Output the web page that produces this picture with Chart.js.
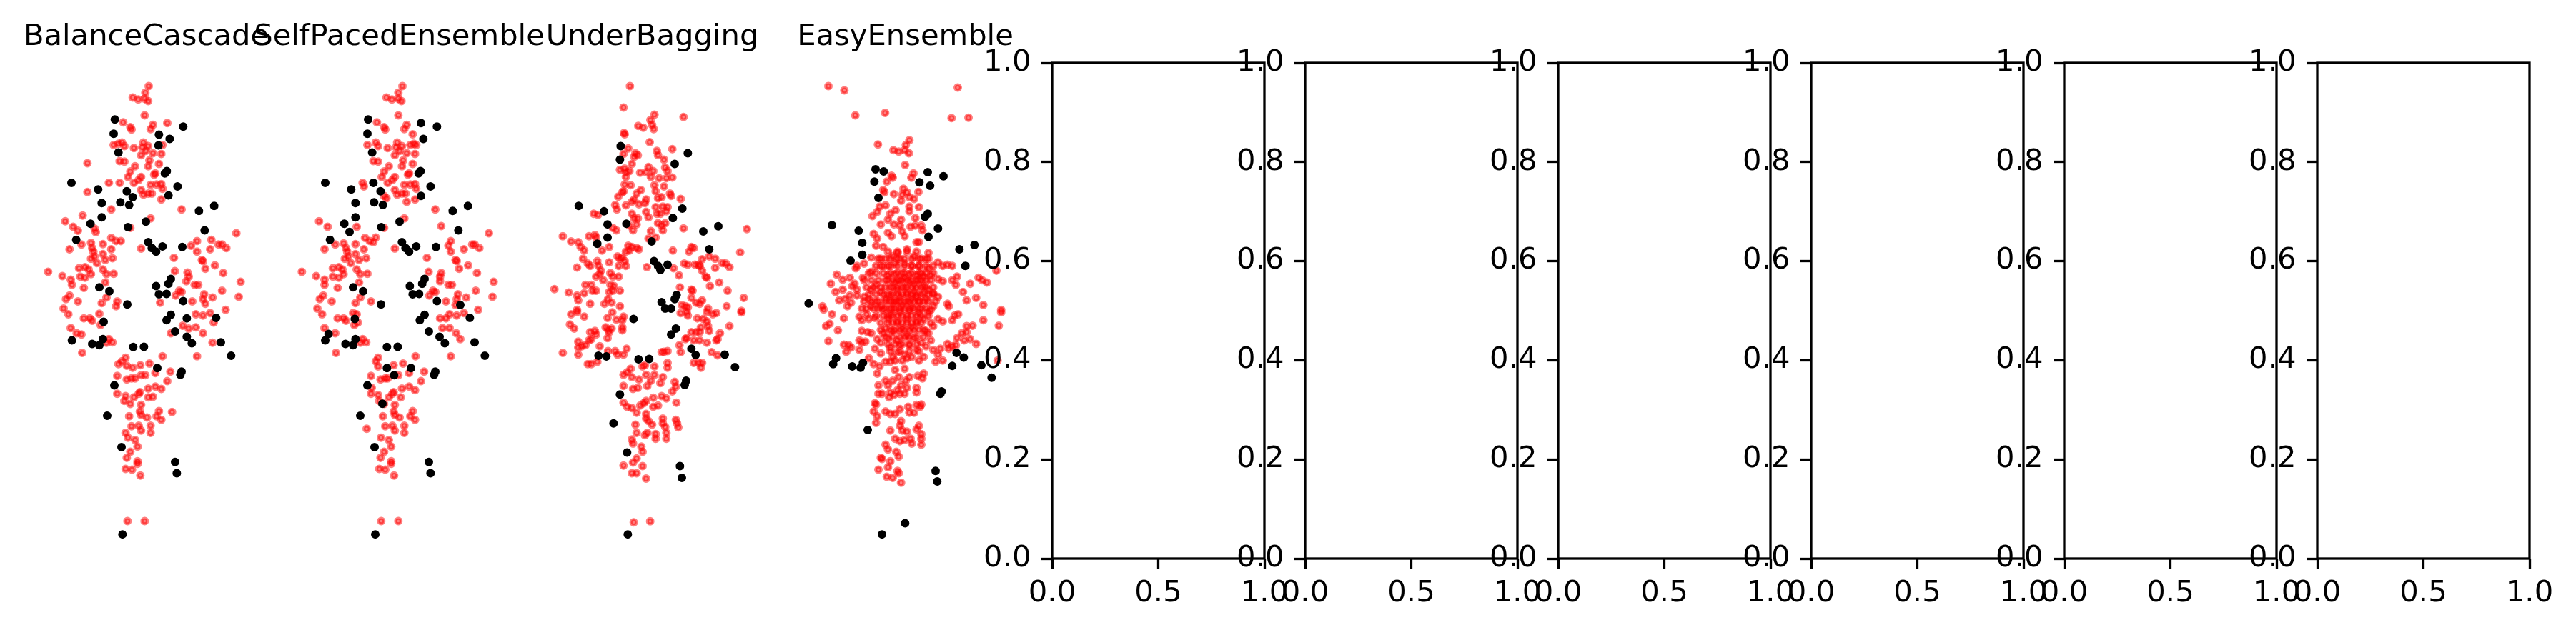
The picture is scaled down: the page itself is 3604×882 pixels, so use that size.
<!DOCTYPE html>
<html>
<head>
<meta charset="utf-8">
<script src="https://cdn.jsdelivr.net/npm/chart.js@4.4.1/dist/chart.umd.min.js"></script>
<style>
  html, body { margin: 0; padding: 0; background: #fff; width: 3604px; height: 882px; overflow: hidden; }
  canvas { position: absolute; top: 0; }
</style>
</head>
<body>
<script>
// Panel titles (the last six axes are empty)
const panelTitles = ["BalanceCascade", "SelfPacedEnsemble", "UnderBagging", "EasyEnsemble"];

// Tick values / labels of the empty axes
const yTickValues = [0, 0.2, 0.4, 0.6, 0.8, 1.0];
const yTickLabels = ["0.0", "0.2", "0.4", "0.6", "0.8", "1.0"];
const xTickValues = [0, 0.5, 1.0];
const xTickLabels = ["0.0", "0.5", "1.0"];

// Scatter points [x, y] (y grows downward, axes are hidden)
const balanceCascadeRed = [
  [522,102],[508,130],[455,150],[478,158],[505,155],[520,165],[505,225],
  [415,255],[445,275],[450,285],[540,265],[530,283],[600,258],
  [375,350],[395,345],[410,340],[420,355],[460,363],[500,340],[495,360],[520,355],[510,375],[540,385],[575,388],[580,350],[490,393],
  [265,427],[400,418],[420,420],[525,415],[520,440],[565,430],[465,440],
  [445,462],[435,485],[490,485],[480,498],[545,475],[550,470],[460,510],[400,510],[355,510],[530,518],[555,517],[575,515],[580,535],
  [490,540],[500,560],[520,555],[535,555],[575,580],[265,548],[365,622],[660,622],[530,660],[445,700],
  [172,672],[245,648],[205,695],[225,712],[295,703],[300,718],[240,770],[190,790],[280,763],[285,785],[290,800],[295,820],[280,830],
  [305,848],[330,768],[365,742],[385,755],[405,755],[365,790],[330,810],[340,835],[370,828],[100,885],[160,903],[195,918],[200,940],
  [230,870],[255,865],[270,875],[235,905],[255,910],[280,895],[330,875],[345,895],[375,893],[340,930],[250,953],[190,985],[175,1000],
  [225,1010],[325,1017],[345,993],[390,1010],[385,1030],[165,1040],
  [490,787],[628,826],[700,775],[725,755],[725,800],[785,750],[780,790],[815,770],[830,770],[848,785],[890,722],[745,835],[750,840],
  [800,858],[760,872],[835,890],[632,882],[685,888],[690,905],[680,925],[715,940],[730,940],[650,965],[660,970],[635,985],[705,1010],
  [755,980],[750,1000],[760,1020],[790,993],[830,965],[900,990],[908,927],[570,1015],[845,1045],
  [185,1064],[250,1081],[275,1081],[285,1091],[315,1062],[320,1109],[195,1122],[220,1144],[240,1149],[243,1227],[355,1169],[370,1182],
  [345,1184],[720,1064],[750,1069],[780,1059],[795,1099],[665,1112],[690,1124],[720,1119],[750,1144],[615,1144],[790,1184],[725,1241],
  [425,1247],[410,1262],[395,1274],[430,1281],[455,1289],[487,1279],[525,1272],[580,1241],[550,1312],[613,1306],[390,1324],[430,1339],
  [450,1334],[465,1334],[490,1321],[508,1321],[600,1346],[575,1379],[550,1369],[520,1377],[520,1414],[540,1412],[390,1399],[425,1409],
  [420,1429],[445,1442],[460,1414],[480,1399],[485,1392],[490,1446],[485,1474],[490,1489],[515,1499],[565,1472],[555,1494],[575,1509],
  [620,1476],[440,1494],[450,1536],[480,1534],[490,1554],[530,1534],[530,1564],[425,1564],[435,1584],[465,1594],[475,1622],[445,1644],
  [430,1669],[475,1684],[475,1694],[425,1716],[452,1719],[487,1744],[433,1936],[505,1936]
];
const balanceCascadeBlack = [
  [380,243],[375,303],[395,382],[667,273],[565,307],[610,325],[563,352],[598,460],[590,470],[198,510],[310,538],[430,545],[455,570],
  [643,525],[605,563],[325,595],[403,592],[440,603],[325,655],[278,682],[435,697],[510,673],[733,628],[797,607],[757,710],[218,750],
  [520,760],[535,785],[553,800],[580,778],[663,780],[315,950],[357,967],[553,945],[605,935],[615,915],[565,980],[597,978],[432,1023],
  [667,1008],[333,1096],[200,1174],[285,1189],[315,1194],[330,1169],[457,1202],[502,1201],[615,1066],[597,1089],[682,1081],[805,1079],
  [633,1136],[682,1159],[703,1186],[825,1182],[868,1239],[558,1291],[660,1306],[655,1319],[378,1364],[348,1492],[408,1624],[633,1687],
  [640,1734],[412,1992]
];

const selfPacedRed = [
  [522,102],[505,130],[455,150],[478,158],[505,155],[518,165],[505,225],[415,255],[445,275],[450,285],[540,265],[530,283],[565,305],
  [570,345],[555,350],[580,350],[375,350],[410,340],[420,355],[460,363],[500,340],[495,360],[520,355],[510,375],[540,385],[575,388],
  [490,393],[400,418],[420,420],[525,415],[520,440],[565,430],[465,440],[445,462],[435,485],[490,485],[480,498],[545,475],[550,470],
  [460,510],[355,510],[360,525],[530,518],[555,517],[575,515],[580,535],[490,540],[500,560],[520,555],[535,555],[575,580],[540,590],
  [445,565],[455,575],[660,622],[530,660],[445,700],
  [172,672],[208,695],[330,695],[365,742],[385,755],[410,740],[400,760],[240,770],[275,765],[285,785],[290,800],[295,820],[280,830],
  [305,848],[325,768],[360,790],[325,810],[340,835],[370,828],[100,885],[160,903],[195,918],[195,940],[230,870],[255,865],[270,875],
  [230,905],[255,910],[275,895],[330,875],[345,895],[375,893],[340,930],[250,953],[190,985],[175,1000],[225,1010],[325,1017],[345,993],
  [390,1010],[165,1040],[195,790],
  [490,787],[625,826],[685,692],[715,775],[725,755],[725,800],[780,790],[815,770],[825,770],[845,785],[885,722],[745,835],[750,840],
  [798,858],[760,872],[835,890],[632,885],[685,890],[680,905],[680,925],[715,940],[730,940],[650,965],[660,970],[635,985],[705,1010],
  [755,980],[750,1000],[790,993],[830,965],[900,990],[905,927],[840,1045],[745,1025],
  [185,1064],[250,1081],[275,1081],[285,1091],[315,1059],[330,1064],[320,1109],[335,1099],[195,1122],[240,1144],[243,1227],[355,1169],
  [370,1182],[345,1184],[680,1081],[705,1081],[720,1064],[750,1069],[780,1059],[690,1122],[720,1122],[748,1144],[765,1169],[725,1241],
  [577,1241],[420,1247],[410,1262],[420,1284],[485,1279],[525,1272],[550,1312],[613,1306],[390,1324],[393,1374],[430,1339],[450,1334],
  [460,1334],[505,1321],[600,1346],[575,1384],[550,1369],[520,1377],[515,1414],[390,1399],[420,1404],[425,1429],[445,1442],[465,1414],
  [480,1399],[485,1392],[490,1446],[485,1474],[490,1489],[510,1499],[565,1472],[555,1494],[575,1509],[440,1494],[450,1536],[480,1534],
  [490,1554],[530,1534],[530,1564],[372,1547],[432,1584],[465,1594],[475,1622],[445,1644],[430,1669],[475,1684],[475,1694],[425,1716],
  [450,1719],[487,1744],[433,1936],[505,1936]
];
const selfPacedBlack = [
  [378,243],[375,303],[395,382],[600,258],[667,273],[610,325],[598,460],[590,470],[198,510],[307,538],[400,510],[430,545],[640,525],
  [600,565],[325,595],[403,592],[440,603],[325,655],[278,682],[300,717],[433,697],[510,673],[733,628],[797,607],[757,710],[218,750],
  [520,760],[535,785],[550,800],[580,778],[663,780],[315,950],[357,967],[553,945],[605,935],[615,915],[565,980],[592,978],[432,1023],
  [667,1008],[765,1025],
  [322,1084],[212,1147],[198,1174],[283,1189],[315,1194],[325,1169],[457,1202],[502,1201],[615,1066],[595,1089],[805,1079],[633,1136],
  [678,1159],[700,1186],[825,1182],[868,1239],[457,1291],[487,1321],[558,1291],[660,1306],[655,1319],[375,1364],[438,1441],[345,1492],
  [405,1624],[633,1687],[640,1734],[408,1992]
];

const underBaggingRed = [
  [412,102],[385,192],[515,222],[498,245],[505,265],[512,283],[447,270],[468,277],[637,232],[387,300],[390,305],[495,338],
  [405,365],[385,388],[435,385],[445,393],[430,400],[525,375],[530,393],[590,368],[555,412],
  [370,455],[390,450],[395,465],[410,460],[395,485],[420,430],[455,467],[490,443],[480,465],[510,460],[500,485],[535,490],[560,445],
  [570,460],[565,490],[590,487],[390,517],[415,520],[515,520],[520,545],[555,525],[385,545],[380,550],[440,555],[458,540],[580,555],
  [585,565],[530,575],[545,570],[625,578],[363,568],[430,580],[420,590],[480,580],[475,595],[450,600],[395,605],[350,603],[357,622],
  [520,612],[550,610],[570,612],[565,630],[480,632],[525,640],[540,640],[490,655],[420,640],[430,660],[445,660],[440,685],[410,690],
  [425,710],[530,680],[545,690],[560,680],[550,710],[260,640],[278,645],[340,700],[355,710],[500,713],[520,740],[490,745],[637,702],
  [903,705],
  [130,735],[240,735],[265,730],[270,740],[165,757],[195,760],[205,780],[220,795],[295,795],[325,780],[405,775],[420,780],[440,785],
  [450,790],[410,795],[395,800],[215,830],[235,850],[245,860],[275,840],[280,860],[290,880],[285,895],[325,845],[360,820],[370,830],
  [380,825],[390,840],[395,860],[365,860],[190,867],[95,958],[155,972],[190,985],[195,1005],[220,975],[225,940],[250,940],[255,965],
  [270,965],[270,905],[300,920],[330,890],[340,905],[330,940],[345,945],[365,905],[325,970],[340,965],[370,965],[320,1000],[335,1015],
  [305,1020],[245,1020],[370,1030],[190,1045],
  [483,865],[592,795],[595,870],[618,900],[640,850],[655,855],[670,780],[680,785],[660,800],[685,855],[700,855],[705,860],[715,832],
  [715,880],[745,820],[770,830],[730,905],[735,910],[770,868],[800,848],[815,850],[830,865],[875,803],[748,945],[787,930],[822,965],
  [890,995],[622,950],[670,960],[675,965],[670,995],[690,1015],[715,1005],[705,1020],[740,1040],[818,1030],[630,1025],[645,1030],
  [655,1035],[880,1050],
  [165,1064],[190,1054],[220,1074],[160,1107],[178,1124],[245,1139],[265,1134],[270,1149],[310,1119],[320,1129],[325,1139],[318,1164],
  [335,1124],[318,1079],[338,1056],[355,1087],[380,1089],[385,1074],[380,1119],[380,1132],[195,1179],[195,1204],[210,1199],[225,1194],
  [240,1174],[250,1169],[195,1234],[130,1227],[235,1274],[250,1274],[275,1264],[285,1199],[320,1219],[350,1219],[360,1234],[385,1234],
  [398,1209],
  [625,1059],[650,1054],[655,1069],[695,1081],[720,1084],[735,1054],[760,1064],[775,1059],[735,1094],[740,1114],[745,1134],[710,1119],
  [705,1139],[690,1139],[670,1139],[650,1164],[645,1169],[680,1174],[705,1174],[735,1184],[790,1144],[780,1169],[775,1174],[830,1114],
  [880,1056],[620,1194],[625,1224],[545,1224],[555,1222],[570,1219],[570,1269],[570,1289],[680,1269],[700,1269],[715,1269],[710,1289],
  [755,1224],[780,1237],
  [465,1284],[475,1279],[515,1284],[415,1294],[400,1309],[385,1319],[420,1329],[450,1339],[480,1319],[515,1319],[550,1329],[540,1354],
  [500,1344],[485,1366],[445,1374],[425,1379],[385,1366],[600,1349],[605,1369],[590,1389],[510,1416],[545,1409],[565,1419],[480,1429],
  [470,1439],[455,1449],[385,1437],[400,1454],[420,1459],[440,1479],[510,1454],[530,1449],[607,1437],[480,1484],[480,1504],[490,1514],
  [505,1529],[435,1529],[550,1504],[550,1524],[560,1539],[565,1564],[605,1509],[610,1524],[615,1541],[440,1564],[475,1574],[485,1564],
  [520,1569],[520,1589],[565,1589],[420,1592],[425,1609],[460,1622],[465,1644],[440,1672],[425,1689],[385,1702],[465,1704],[420,1734],
  [440,1734],[480,1757],[428,1941],[497,1937]
];
const underBaggingBlack = [
  [373,355],[370,412],[655,385],[600,430],[197,607],[303,630],[318,685],[397,682],[318,740],[275,767],[632,618],[592,658],[720,715],
  [783,693],[745,790],[503,757],[513,840],[530,860],[540,877],[570,855],[545,1013],[600,1000],[608,983],[560,1040],[585,1040],
  [427,1084],[605,1124],[585,1149],[670,1209],[688,1236],[810,1234],[853,1287],[280,1239],[313,1242],[448,1254],[493,1252],[648,1344],
  [642,1362],[370,1402],[343,1524],[400,1647],[622,1704],[630,1754],[403,1992]
];

const easyEnsembleRed = [
  [180,102],[247,120],[723,108],[293,225],[418,215],[697,237],[768,235],
  [388,348],[520,330],[505,350],[453,372],[475,378],[500,372],[518,385],[502,435],
  [445,480],[450,488],[425,505],[537,470],[528,488],[558,548],[540,578],[455,557],[495,535],[510,550],[490,560],[485,585],[520,570],
  [410,540],[415,550],[420,605],[395,610],[385,632],[365,650],[462,625],[520,610],[560,612],[520,630],[545,658],[440,640],[430,665],
  [400,685],[455,685],[485,665],[480,690],[525,695],[545,690],[570,690],[575,710],[490,715],[500,735],[370,725],[385,745],[430,720],
  [445,735],[550,760],[560,760],[380,775],[410,780],[600,805],[510,790],[470,805],
  [360,825],[390,830],[420,830],[450,820],[480,830],[540,820],[570,830],[590,830],[330,850],[300,860],[295,870],[640,845],[660,860],
  [680,855],[700,860],[620,860],
  [215,897],[240,918],[190,935],[270,910],[290,935],[325,910],[360,885],[380,890],[400,860],[430,860],[460,850],[500,850],[530,860],
  [560,860],[600,870],[570,890],[610,900],[640,915],[660,925],[700,920],[720,905],[715,940],[745,970],[760,1005],[800,995],[810,910],
  [825,920],[845,930],[775,935],[885,880],[905,1045],[830,1025],[680,1020],[685,1030],
  [155,1030],[225,1005],[250,1000],[270,985],[275,1015],[300,985],[330,990],[350,1000],[360,960],[380,940],[420,920],[440,950],
  [460,930],[480,920],[500,910],[520,925],[540,940],[560,920],[580,945],[600,960],[620,975],[640,990],[300,960],[280,945],[240,960],
  [210,970],[260,1030],[320,1040],[420,1000],[450,1010],[480,990],[510,975],[530,1000],[560,1010],[590,1000],[620,1030],[400,970],
  [470,960],[500,950],[540,970],[580,975],[440,985],
  [430,900],[460,895],[490,890],[520,895],[550,900],[580,905],[450,1040],[490,1030],[530,1035],[570,1040],[610,1045],[470,1010],
  [510,1010],[550,990],[400,1030],[380,1010],[360,1030],
  // dense core, where the markers merge into one red patch
  [430,800],[470,800],[510,800],[550,800],
  [400,830],[440,830],[470,830],[500,830],[530,830],[560,830],[600,830],
  [380,860],[410,860],[440,860],[470,860],[500,860],[530,860],[560,860],[590,860],
  [350,890],[410,890],[440,890],[470,890],[500,890],[530,890],[560,890],[590,890],[620,890],
  [330,920],[360,920],[390,920],[430,920],[450,920],[470,920],[490,920],[510,920],[530,920],[550,920],[570,920],[590,920],[610,920],
  [340,950],[370,950],[400,950],[420,950],[450,950],[470,950],[490,950],[510,950],[530,950],[550,950],[570,950],[590,950],[620,950],
  [350,980],[380,980],[410,980],[430,980],[450,980],[470,980],[490,980],[510,980],[530,980],[550,980],[570,980],[600,980],[620,980],
  [330,1010],[360,1010],[390,1010],[420,1010],[440,1010],[460,1010],[480,1010],[500,1010],[520,1010],[540,1010],[560,1010],[580,1010],
  [600,1010],[630,1010],
  [340,1040],[370,1040],[390,1040],[420,1040],[440,1040],[460,1040],[480,1040],[500,1040],[520,1040],[540,1040],[560,1040],[590,1040],
  [380,1070],[410,1070],[430,1070],[450,1070],[470,1070],[490,1070],[510,1070],[530,1070],[550,1070],[570,1070],[600,1070],
  [400,1100],[430,1100],[450,1100],[470,1100],[490,1100],[510,1100],[530,1100],[550,1100],[570,1100],[610,1100],
  [400,1130],[440,1130],[460,1130],[480,1130],[500,1130],[520,1130],[540,1130],[580,1130],
  [420,1160],[450,1160],[480,1160],[500,1160],[520,1160],[550,1160],[580,1160],
  [430,1190],[460,1190],[490,1190],[520,1190],[550,1190],
  [440,1220],[480,1220],[520,1220],[560,1220],
  [160,1044],[195,1064],[245,1081],[170,1114],[185,1104],[220,1132],[180,1177],[245,1192],[265,1194],[275,1204],[255,1222],[310,1074],
  [320,1089],[340,1064],[350,1084],[375,1079],[320,1134],[345,1139],[360,1144],[310,1174],[320,1184],[335,1179],[385,1169],[310,1214],
  [375,1209],[400,1229],[420,1264],[440,1264],[460,1259],[350,1249],[370,1274],[395,1284],[410,1044],[440,1064],[480,1054],[520,1049],
  [560,1059],[600,1054],[640,1084],[660,1094],[620,1114],[600,1144],[610,1174],[590,1199],[620,1214],[640,1234],[630,1264],[660,1259],
  [650,1209],[685,1209],[700,1199],[680,1189],[715,1194],[720,1164],[740,1144],[760,1139],[750,1174],[775,1169],[800,1189],[760,1114],
  [785,1112],[830,1089],[895,1112],[905,1056],[710,1069],[725,1064],[700,1089],[890,1259],
  [430,1084],[470,1094],[510,1084],[550,1094],[580,1084],[420,1124],[450,1134],[490,1124],[530,1119],[560,1129],[590,1134],[430,1164],
  [470,1174],[510,1154],[540,1164],[570,1184],[440,1204],[480,1194],[520,1194],[550,1214],[470,1224],[500,1234],[530,1244],[560,1259],
  [580,1244],[410,1144],[400,1184],[450,1244],[490,1259],[510,1249],
  [460,1299],[500,1294],[475,1329],[450,1344],[505,1344],[520,1329],[555,1324],[580,1314],[575,1334],[385,1314],[390,1364],[420,1344],
  [430,1364],[390,1399],[405,1399],[440,1394],[470,1384],[485,1364],[510,1374],[500,1399],[550,1374],[550,1394],[435,1414],[455,1404],
  [480,1399],[375,1439],[380,1444],[370,1474],[385,1494],[380,1522],[420,1474],[440,1484],[460,1484],[480,1464],[515,1454],[520,1479],
  [540,1479],[550,1446],[570,1444],[565,1454],[485,1514],[480,1534],[490,1554],[510,1559],[440,1554],[460,1589],[480,1599],[500,1594],
  [525,1589],[530,1609],[550,1549],[560,1534],[570,1569],[570,1589],[570,1614],[420,1614],[430,1634],[465,1644],[475,1664],[400,1669],
  [405,1674],[440,1684],[430,1709],[390,1719],[470,1724],[475,1734],[425,1749],[450,1754],[485,1774]
];
const easyEnsembleBlack = [
  [378,453],[412,462],[373,505],[597,465],[663,482],[562,508],[607,522],[390,573],[597,640],[585,653],[195,688],[307,712],[640,703],
  [600,737],[322,763],[322,813],[273,838],[730,790],[793,772],[755,860],[97,1018],
  [212,1249],[200,1274],[280,1284],[315,1289],[325,1269],[700,1282],[718,1227],[748,1246],[822,1279],[865,1331],[655,1389],[650,1399],
  [345,1552],[630,1724],[637,1769],[502,1945],[405,1992]
];

const scatterRed = [balanceCascadeRed, selfPacedRed, underBaggingRed, easyEnsembleRed];
const scatterBlack = [balanceCascadeBlack, selfPacedBlack, underBaggingBlack, easyEnsembleBlack];

// Layout of the 1x10 grid (figure pixels)
const FIG_H = 882;
const AX_LEFT = 56, AX_STEP = 354, AX_W = 297, AX_TOP = 88, AX_BOTTOM = 782;
const PAD_L = 130, PAD_R = 80;
const LINE_W = 3.3;
const tickFont = { family: "'DejaVu Sans'", size: 41.7 };

const boxPlugin = {
  id: "axesBox",
  afterDraw(chart, args, opts) {
    if (!opts.show) return;
    const { ctx, chartArea: a } = chart;
    ctx.save();
    ctx.strokeStyle = "#000";
    ctx.lineWidth = LINE_W;
    ctx.strokeRect(a.left, a.top, a.right - a.left, a.bottom - a.top);
    ctx.restore();
  }
};

const titlePlugin = {
  id: "panelTitle",
  afterDraw(chart, args, opts) {
    if (!opts.text) return;
    const { ctx, chartArea: a } = chart;
    ctx.save();
    ctx.fillStyle = "#000";
    ctx.font = "41.7px 'DejaVu Sans'";
    ctx.textAlign = "center";
    ctx.textBaseline = "alphabetic";
    ctx.fillText(opts.text, (a.left + a.right) / 2, a.top - 25);
    ctx.restore();
  }
};

function makeCanvas(i) {
  const c = document.createElement("canvas");
  const w = PAD_L + AX_W + PAD_R;
  c.width = w;
  c.height = FIG_H;
  c.style.left = (AX_LEFT + AX_STEP * i - PAD_L) + "px";
  c.style.width = w + "px";
  c.style.height = FIG_H + "px";
  document.body.appendChild(c);
  return c;
}

const toXY = pts => pts.map(([x, y]) => ({ x, y }));

// scatter panels
panelTitles.forEach((title, k) => {
  new Chart(makeCanvas(k), {
    type: "scatter",
    data: {
      datasets: [
        {
          data: toXY(scatterBlack[k]),
          pointRadius: 3.9,
          pointBorderWidth: 4.2,
          pointBackgroundColor: "#000",
          pointBorderColor: "#000",
          clip: false
        },
        {
          data: toXY(scatterRed[k]),
          pointRadius: 3.9,
          pointBorderWidth: 4.2,
          pointBackgroundColor: "rgba(255,0,0,0.5)",
          pointBorderColor: "rgba(255,0,0,0.5)",
          clip: false
        }
      ]
    },
    options: {
      responsive: false,
      animation: false,
      devicePixelRatio: 1,
      events: [],
      layout: { padding: { left: PAD_L, right: PAD_R, top: AX_TOP, bottom: FIG_H - AX_BOTTOM } },
      scales: {
        x: { display: false, min: 66 - 3 * k, max: 957 - 3 * k },
        y: { display: false, reverse: true, min: 4, max: 2094 }
      },
      plugins: {
        legend: { display: false },
        tooltip: { enabled: false },
        panelTitle: { text: title }
      }
    },
    plugins: [titlePlugin]
  });
});

// empty axes
for (let i = 4; i < 10; i++) {
  new Chart(makeCanvas(i), {
    type: "scatter",
    data: { datasets: [{ data: [] }] },
    options: {
      responsive: false,
      animation: false,
      devicePixelRatio: 1,
      events: [],
      layout: { padding: { left: 0, right: PAD_R, top: AX_TOP, bottom: 0 } },
      scales: {
        x: {
          min: 0, max: 1,
          afterFit: s => { s.height = FIG_H - AX_BOTTOM; },
          afterBuildTicks: s => { s.ticks = xTickValues.map(v => ({ value: v })); },
          grid: { drawOnChartArea: false, drawTicks: true, tickLength: 15, tickWidth: LINE_W, tickColor: "#000" },
          border: { display: false },
          ticks: { color: "#000", font: tickFont, padding: 9, maxRotation: 0, autoSkip: false,
                   callback: (v, idx) => xTickLabels[idx] }
        },
        y: {
          min: 0, max: 1,
          afterFit: s => { s.width = PAD_L; },
          afterBuildTicks: s => { s.ticks = yTickValues.map(v => ({ value: v })); },
          grid: { drawOnChartArea: false, drawTicks: true, tickLength: 15, tickWidth: LINE_W, tickColor: "#000" },
          border: { display: false },
          ticks: { color: "#000", font: tickFont, padding: 14.6, autoSkip: false,
                   callback: (v, idx) => yTickLabels[idx] }
        }
      },
      plugins: {
        legend: { display: false },
        tooltip: { enabled: false },
        axesBox: { show: true }
      }
    },
    plugins: [boxPlugin]
  });
}
</script>
</body>
</html>
